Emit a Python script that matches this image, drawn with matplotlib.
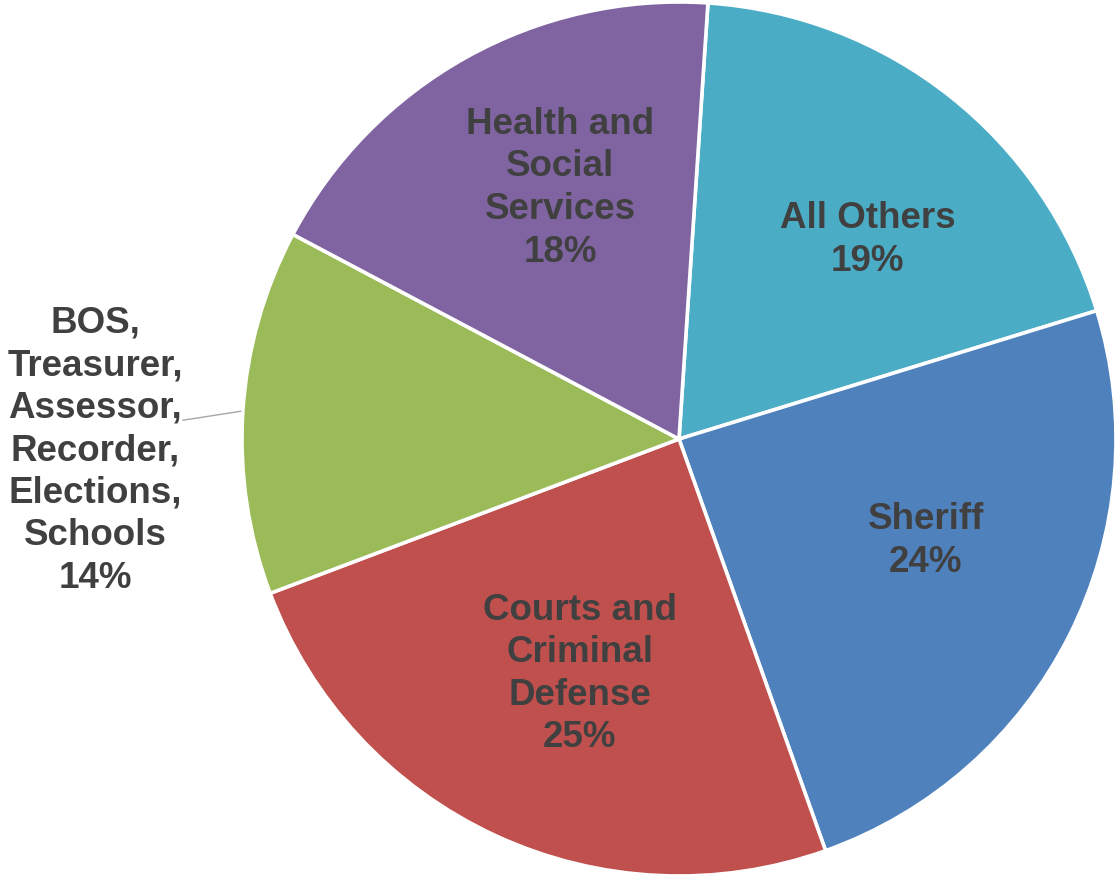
import numpy as np
import matplotlib.pyplot as plt

# slices, clockwise from the top
categories = ["All Others", "Sheriff", "Courts and\nCriminal\nDefense",
              "BOS,\nTreasurer,\nAssessor,\nRecorder,\nElections,\nSchools",
              "Health and\nSocial\nServices"]
shares = [19.2, 24.3, 24.7, 13.5, 18.3]
colors = ["#4BACC6", "#4F81BD", "#C0504D", "#9BBB59", "#8064A2"]

# label centres in pie units (radius = 1)
label_xy = [(0.432, 0.455), (0.565, -0.233), (-0.227, -0.538),
            (-1.336, -0.027), (-0.272, 0.574)]

plt.rcParams["font.family"] = ["Liberation Sans", "DejaVu Sans"]

W, H = 1120, 882
cx, cy, R = 679, 439, 437  # pie centre / radius in pixels
fig = plt.figure(figsize=(W / 100, H / 100), dpi=100)
ax = fig.add_axes([0, 0, 1, 1])

start = 86.2
wedges, _ = ax.pie(shares, colors=colors, startangle=start, counterclock=False,
                   radius=1.0, wedgeprops=dict(edgecolor="white", linewidth=2.6))

ax.set_xlim(-cx / R, (W - cx) / R)
ax.set_ylim(-(H - cy) / R, cy / R)
ax.set_aspect("equal")
ax.axis("off")

for i, (lab, val) in enumerate(zip(categories, shares)):
    x, y = label_xy[i]
    ax.text(x, y, f"{lab}\n{val:.0f}%", ha="center", va="center",
            multialignment="center", fontsize=26.5, fontweight="bold",
            color="#404040", linespacing=1.28)

# leader line for the outside label
w = wedges[3]
mid = np.deg2rad((w.theta1 + w.theta2) / 2)
ex, ey = 1.005 * np.cos(mid), 1.005 * np.sin(mid)
ax.plot([-1.135, ex], [0.043, ey], color="#A6A6A6", lw=1.0)

plt.savefig("out.png", dpi=100)
